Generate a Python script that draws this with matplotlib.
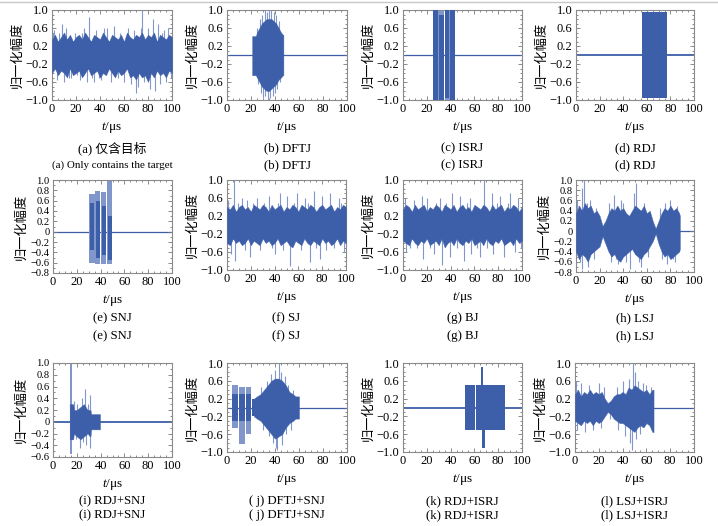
import numpy as np
import matplotlib
matplotlib.use('Agg')
import matplotlib.pyplot as plt
from matplotlib.ticker import MultipleLocator
from matplotlib.lines import Line2D

plt.rcParams['font.family'] = ['Liberation Serif', 'Noto Sans CJK SC']
plt.rcParams['mathtext.fontset'] = 'custom'
plt.rcParams['mathtext.rm'] = 'Liberation Serif'
plt.rcParams['mathtext.it'] = 'Liberation Serif:italic'

DARK = '#3d5fa9'
LIGHT = '#8197cc'

# ---------------- data ----------------
x_ticks = [0, 20, 40, 60, 80, 100]
y_ticks_std = [-1.0, -0.6, -0.2, 0.2, 0.6, 1.0]
y_ticks_08 = [-0.8, -0.6, -0.4, -0.2, 0.0, 0.2, 0.4, 0.6, 0.8, 1.0]
y_ticks_06 = [-0.6, -0.4, -0.2, 0.0, 0.2, 0.4, 0.6, 0.8, 1.0]

captions_cn = ['(a) 仅含目标', '(b) DFTJ', '(c) ISRJ', '(d) RDJ',
               '(e) SNJ', '(f) SJ', '(g) BJ', '(h) LSJ',
               '(i) RDJ+SNJ', '( j) DFTJ+SNJ', '(k) RDJ+ISRJ', '(l) LSJ+ISRJ']
captions_en = ['(a) Only contains the target', '(b) DFTJ', '(c) ISRJ', '(d) RDJ',
               '(e) SNJ', '(f) SJ', '(g) BJ', '(h) LSJ',
               '(i) RDJ+SNJ', '( j) DFTJ+SNJ', '(k) RDJ+ISRJ', '(l) LSJ+ISRJ']

# sampling instants of the envelope read-outs (us)
t_grid = [0, 2.5, 5, 7.5, 10, 12.5, 15, 17.5, 20, 22.5, 25, 27.5, 30, 32.5, 35, 37.5, 40,
          42.5, 45, 47.5, 50, 52.5, 55, 57.5, 60, 62.5, 65, 67.5, 70, 72.5, 75, 77.5, 80,
          82.5, 85, 87.5, 90, 92.5, 95, 97.5, 100]

# (a) target only
a_env_hi = [0.35, 0.45, 0.3, 0.4, 0.5, 0.35, 0.45, 0.3, 0.4, 0.45, 0.35, 0.5, 0.4, 0.3, 0.45,
            0.4, 0.35, 0.5, 0.4, 0.3, 0.45, 0.4, 0.35, 0.45, 0.3, 0.5, 0.4, 0.35, 0.45, 0.4,
            0.5, 0.35, 0.45, 0.4, 0.5, 0.3, 0.45, 0.4, 0.35, 0.45, 0.4]
a_env_lo = [-0.4, -0.3, -0.45, -0.35, -0.4, -0.5, -0.3, -0.45, -0.4, -0.35, -0.5, -0.4, -0.3,
            -0.45, -0.4, -0.35, -0.5, -0.4, -0.45, -0.3, -0.4, -0.5, -0.35, -0.45, -0.4, -0.3,
            -0.5, -0.45, -0.55, -0.4, -0.5, -0.45, -0.6, -0.4, -0.5, -0.35, -0.45, -0.4, -0.5,
            -0.35, -0.4]
a_spk_t = [1, 2, 4, 6, 8, 10, 12, 14, 16, 19, 21, 23, 25, 27, 29, 31, 33, 35, 37, 39, 41, 43, 46, 49, 52, 55, 57, 60, 63, 66, 68, 70, 72, 74, 75, 77, 80, 82, 84, 86, 88, 90, 92, 93, 95, 97, 99]
a_spk_v = [0.5, 0.55, -0.55, 0.5, 0.7, -0.6, 0.6, -0.5, -0.5, 0.5, -0.45, -0.55, 0.5, 0.6, -0.6, 0.85, -0.5, -0.6, 0.55, -0.5, -0.55, 0.6, 0.6, -0.6, 0.65, -0.5, 0.5, -0.6, 0.6, -0.65, 0.55, -0.85, -0.7, 0.6, 1.0, -0.6, 0.6, -0.75, 0.8, -0.8, 0.7, -0.65, 0.5, 0.55, -0.6, 0.6, -0.5]

# (b) DFTJ
b_env_t = [21, 21.5, 24, 25, 27, 29, 31, 33, 35, 37, 39, 41, 43, 45, 46.5, 47]
b_env_hi = [0.42, 0.42, 0.42, 0.5, 0.6, 0.7, 0.75, 0.8, 0.8, 0.8, 0.75, 0.7, 0.6, 0.5, 0.45, 0.45]
b_env_lo = [-0.45, -0.45, -0.45, -0.5, -0.6, -0.7, -0.75, -0.8, -0.8, -0.75, -0.7, -0.65, -0.55, -0.5, -0.45, -0.45]
b_spk_t = [25, 26, 27.5, 28, 29.5, 30, 31.5, 32, 33, 34, 35, 36, 37, 38, 39, 40, 41, 42, 43, 44]
b_spk_v = [0.6, -0.65, 0.8, -0.85, 0.9, -0.95, 1.0, -0.9, 0.95, -1.0, 1.0, -0.95, 1.0, -0.9, 0.95, -0.85, 0.9, -0.75, 0.75, -0.6]

# (c) ISRJ
c_lt_t0 = [25, 35.5]
c_lt_t1 = [34.5, 44]
c_lt_hi = [1.0, 1.0]
c_lt_lo = [-1.0, -1.0]
c_blk_t0 = [25, 30, 35.5, 39.5]
c_blk_t1 = [29.2, 34.5, 38.8, 44]
c_blk_hi = [1.0, 0.9, 1.0, 1.0]
c_blk_lo = [-1.0, -1.0, -0.95, -1.0]

# (d) RDJ
d_blk_t0 = [56]
d_blk_t1 = [77]
d_blk_hi = [0.95]
d_blk_lo = [-0.95]

# (e) SNJ
e_lt_t0 = [30.3, 35.6, 40.6, 45.4]
e_lt_t1 = [35.0, 39.8, 44.8, 49.9]
e_lt_hi = [0.72, 0.78, 0.76, 1.0]
e_lt_lo = [-0.6, -0.62, -0.62, -0.62]
e_blk_t0 = [30.8, 36.0, 41.0, 46.0]
e_blk_t1 = [34.5, 39.4, 44.4, 49.4]
e_blk_hi = [0.55, 0.6, 0.5, 0.3]
e_blk_lo = [-0.35, -0.5, -0.45, -0.55]

# (f) SJ
f_env_hi = [0.4, 0.35, 0.45, 0.3, 0.4, 0.45, 0.35, 0.4, 0.3, 0.45, 0.4, 0.35, 0.45, 0.4, 0.3,
            0.45, 0.35, 0.4, 0.45, 0.3, 0.4, 0.35, 0.45, 0.4, 0.3, 0.45, 0.4, 0.35, 0.45, 0.4,
            0.3, 0.4, 0.45, 0.35, 0.4, 0.45, 0.3, 0.4, 0.35, 0.45, 0.4]
f_env_lo = [-0.4, -0.45, -0.3, -0.4, -0.35, -0.45, -0.4, -0.3, -0.45, -0.35, -0.4, -0.45, -0.3,
            -0.4, -0.35, -0.45, -0.4, -0.3, -0.45, -0.4, -0.35, -0.45, -0.5, -0.35, -0.4, -0.45,
            -0.3, -0.4, -0.45, -0.35, -0.4, -0.45, -0.3, -0.4, -0.35, -0.45, -0.4, -0.3, -0.45,
            -0.35, -0.4]
f_spk_t = [1, 3, 5.6, 7, 9, 12.6, 15, 16.8, 19.6, 22, 25, 28, 31, 35, 38, 40.6, 43, 44.8, 47, 50, 53.2, 56, 58.8, 62, 65.8, 68, 70, 72.8, 75, 78.4, 79.8, 83, 86.8, 90, 93.8, 96, 98]
f_spk_v = [0.55, -0.65, 1.0, -0.8, 0.5, 0.6, -0.55, 0.55, -0.7, 0.5, 0.6, -0.55, 0.5, 0.65, -0.5, -0.65, 0.5, 0.7, -0.55, 0.65, -0.92, 0.5, 0.7, -0.55, 0.6, 0.5, -0.82, 0.75, -0.5, -0.75, 0.65, -0.55, 0.7, -0.5, 0.6, 0.5, -0.6]

# (g) BJ
g_env_hi = [0.35, 0.45, 0.4, 0.3, 0.45, 0.35, 0.4, 0.45, 0.3, 0.4, 0.35, 0.45, 0.4, 0.3, 0.45,
            0.4, 0.35, 0.45, 0.3, 0.4, 0.45, 0.35, 0.4, 0.3, 0.45, 0.4, 0.35, 0.45, 0.4, 0.3,
            0.45, 0.35, 0.4, 0.45, 0.3, 0.4, 0.35, 0.45, 0.4, 0.3, 0.4]
g_env_lo = [-0.35, -0.4, -0.45, -0.3, -0.4, -0.45, -0.35, -0.4, -0.3, -0.45, -0.4, -0.35, -0.45,
            -0.3, -0.5, -0.4, -0.35, -0.45, -0.3, -0.4, -0.45, -0.35, -0.4, -0.3, -0.45, -0.4,
            -0.35, -0.45, -0.3, -0.4, -0.45, -0.35, -0.4, -0.3, -0.45, -0.4, -0.35, -0.45, -0.3,
            -0.4, -0.35]
g_spk_t = [2, 2.5, 6, 9, 12, 16, 16.5, 20, 23, 25.8, 28, 31, 32.8, 36, 39.8, 41, 45, 48, 51, 54, 56.6, 57, 62, 65, 67.8, 71, 74.8, 76, 79, 81.8, 84.6, 88, 90.2, 94.4, 97, 99]
g_spk_v = [0.6, -0.6, -0.5, 0.55, -0.5, 0.65, -0.75, 0.6, -0.5, -0.65, 0.5, 0.6, -0.88, 0.5, -0.7, 0.7, -0.5, 0.65, -0.8, 0.5, 0.6, -0.65, -0.5, -0.7, 1.0, -0.5, 0.7, -0.65, 0.5, 0.65, -0.7, 0.5, 0.7, -0.6, 0.6, -0.5]

# (h) LSJ
h_env_t = [0, 2.5, 5, 7.5, 10, 12.5, 15, 17.5, 20, 22.5, 25, 27.5, 30, 32.5, 35, 37.5, 40,
           42.5, 45, 47.5, 50, 52.5, 55, 57.5, 60, 62.5, 65, 67.5, 70, 72.5, 75, 77.5, 80,
           82.5, 85, 87.5, 88]
h_env_hi = [0.35, 0.5, 0.4, 0.55, 0.45, 0.5, 0.35, 0.4, 0.3, 0.1, 0.2, 0.35, 0.45, 0.4, 0.5,
            0.4, 0.45, 0.35, 0.3, 0.4, 0.5, 0.45, 0.4, 0.5, 0.35, 0.4, 0.2, 0.05, 0.2, 0.35,
            0.45, 0.4, 0.5, 0.4, 0.45, 0.35, 0.3]
h_env_lo = [-0.4, -0.55, -0.45, -0.5, -0.6, -0.45, -0.4, -0.35, -0.3, -0.1, -0.25, -0.4, -0.5,
            -0.45, -0.55, -0.6, -0.5, -0.45, -0.4, -0.35, -0.45, -0.5, -0.55, -0.45, -0.4, -0.3,
            -0.2, -0.05, -0.25, -0.4, -0.5, -0.45, -0.55, -0.5, -0.45, -0.4, -0.35]
h_spk_t = [1, 3, 5, 5.5, 7, 9, 10, 12, 15, 17, 28, 30, 32, 34, 36, 38, 40, 42, 46, 49, 51, 53, 55, 58, 61, 71, 73, 75, 77, 80, 82, 84, 86]
h_spk_v = [0.6, -0.6, 0.85, -0.75, 1.0, 0.55, -0.7, 0.6, -0.55, 0.45, 0.55, -0.6, 0.7, -0.55, -0.65, 0.6, 0.55, -0.6, -0.75, 0.75, 0.95, -0.6, -0.7, 0.55, -0.5, 0.45, -0.55, 0.55, -0.65, 0.6, -0.55, -0.6, 0.5]

# (i) RDJ+SNJ
i_lt_t0 = [14.0]
i_lt_t1 = [16.3]
i_lt_hi = [1.0]
i_lt_lo = [-0.55]
i_env_t = [14, 17, 17.5, 20, 23, 26, 29, 31.5, 32, 39.5]
i_env_hi = [0.3, 0.3, 0.2, 0.2, 0.25, 0.3, 0.2, 0.2, 0.13, 0.13]
i_env_lo = [-0.3, -0.3, -0.2, -0.25, -0.3, -0.25, -0.2, -0.25, -0.13, -0.13]
i_spk_t = [18, 19, 20, 21, 23, 24, 25, 27, 28, 29, 30, 31, 31.5]
i_spk_v = [0.35, -0.3, 0.3, -0.25, -0.45, 0.4, -0.35, 0.55, -0.4, 0.3, -0.25, 0.45, -0.45]

# (j) DFTJ+SNJ
j_lt_t0 = [4, 10, 16]
j_lt_t1 = [9, 15, 20]
j_lt_hi = [0.5, 0.45, 0.45]
j_lt_lo = [-0.45, -0.82, -0.6]
j_blk_t0 = [4, 10, 16, 21]
j_blk_t1 = [9, 15, 20, 23]
j_blk_hi = [0.3, 0.3, 0.3, 0.2]
j_blk_lo = [-0.3, -0.3, -0.3, -0.2]
j_env_t = [22.5, 25, 28, 31, 34, 37, 40, 43, 46, 49, 52, 55, 57, 58, 60]
j_env_hi = [0.2, 0.25, 0.3, 0.4, 0.5, 0.6, 0.65, 0.65, 0.6, 0.5, 0.35, 0.3, 0.25, 0.25, 0.25]
j_env_lo = [-0.2, -0.25, -0.3, -0.4, -0.5, -0.6, -0.7, -0.65, -0.6, -0.45, -0.35, -0.3, -0.25, -0.25, -0.25]
j_spk_t = [28, 30, 33, 35, 37, 38, 40, 41, 42, 43, 45, 46, 48, 49, 51, 53, 55]
j_spk_v = [0.45, -0.5, 0.6, -0.65, 0.75, -0.8, 0.85, -0.9, -0.95, 1.0, 0.8, -0.85, 0.7, -0.6, 0.5, -0.5, 0.4]

# (k) RDJ+ISRJ
k_blk_t0 = [52.0, 61.6, 65.5, 66.8]
k_blk_t1 = [60.2, 85.6, 67.5, 68.8]
k_blk_hi = [0.5, 0.5, 0.92, 0.0]
k_blk_lo = [-0.5, -0.5, 0.0, -0.92]

# (l) LSJ+ISRJ
l_env_t = [0, 2.5, 5, 7.5, 10, 12.5, 15, 17.5, 20, 22.5, 25, 27.5, 30, 32.5, 35, 37.5, 40,
           42.5, 45, 47.5, 50, 52.5, 55, 57.5, 60, 62.5, 65, 66]
l_env_hi = [0.3, 0.4, 0.25, 0.35, 0.3, 0.4, 0.3, 0.35, 0.3, 0.35, 0.2, 0.1, 0.15, 0.25, 0.3,
            0.3, 0.35, 0.3, 0.45, 0.4, 0.5, 0.45, 0.4, 0.35, 0.4, 0.3, 0.4, 0.4]
l_env_lo = [-0.3, -0.35, -0.4, -0.3, -0.35, -0.3, -0.4, -0.3, -0.35, -0.3, -0.2, -0.1, -0.15,
            -0.25, -0.3, -0.35, -0.35, -0.4, -0.45, -0.5, -0.55, -0.45, -0.4, -0.45, -0.35, -0.4,
            -0.55, -0.55]
l_spk_t = [1, 2, 5, 8, 12, 15, 20, 22, 24, 29, 35, 36, 40, 42, 45, 46, 48, 48.5, 50, 51, 53, 55, 57, 60, 64]
l_spk_v = [0.6, -0.5, 0.55, -0.55, 0.5, -0.5, 0.55, -0.45, 0.45, -0.25, 0.45, -0.5, 0.6, -0.65, 0.65, -0.8, -0.95, 1.0, 0.8, -0.7, 0.6, -0.6, 0.55, 0.5, 0.45]

# ---------------- assembly ----------------
def P(**kw):
    return kw

panels = [
    P(env=(t_grid, a_env_hi, a_env_lo), spk=(a_spk_t, a_spk_v), yt=y_ticks_std),
    P(env=(b_env_t, b_env_hi, b_env_lo), spk=(b_spk_t, b_spk_v), yt=y_ticks_std),
    P(lt=(c_lt_t0, c_lt_t1, c_lt_hi, c_lt_lo), blk=(c_blk_t0, c_blk_t1, c_blk_hi, c_blk_lo), yt=y_ticks_std),
    P(blk=(d_blk_t0, d_blk_t1, d_blk_hi, d_blk_lo), yt=y_ticks_std, noisy_base=True),
    P(lt=(e_lt_t0, e_lt_t1, e_lt_hi, e_lt_lo), blk=(e_blk_t0, e_blk_t1, e_blk_hi, e_blk_lo), yt=y_ticks_08),
    P(env=(t_grid, f_env_hi, f_env_lo), spk=(f_spk_t, f_spk_v), yt=y_ticks_std),
    P(env=(t_grid, g_env_hi, g_env_lo), spk=(g_spk_t, g_spk_v), yt=y_ticks_std),
    P(env=(h_env_t, h_env_hi, h_env_lo), spk=(h_spk_t, h_spk_v), yt=y_ticks_08),
    P(lt=(i_lt_t0, i_lt_t1, i_lt_hi, i_lt_lo), env=(i_env_t, i_env_hi, i_env_lo), spk=(i_spk_t, i_spk_v), yt=y_ticks_06, noisy_base=True),
    P(lt=(j_lt_t0, j_lt_t1, j_lt_hi, j_lt_lo), blk=(j_blk_t0, j_blk_t1, j_blk_hi, j_blk_lo), env=(j_env_t, j_env_hi, j_env_lo), spk=(j_spk_t, j_spk_v), yt=y_ticks_std),
    P(blk=(k_blk_t0, k_blk_t1, k_blk_hi, k_blk_lo), yt=y_ticks_std, noisy_base=True),
    P(env=(l_env_t, l_env_hi, l_env_lo), spk=(l_spk_t, l_spk_v), yt=y_ticks_std),
]

# axes boxes in pixels: left, top, right, bottom
boxes = [
    (52, 10, 172, 100), (227, 10, 347, 100), (403, 10, 522, 100), (576, 10, 694, 100),
    (53, 180, 172, 273), (227, 180, 346, 270), (403, 180, 522, 270), (576, 180, 694, 272),
    (53, 363, 172, 457), (227, 363, 347, 452), (403, 363, 522, 452), (575, 363, 694, 452),
]
cap_y = [(148, 165), (318, 336), (501, 515)]

W, H = 718, 526
fig = plt.figure(figsize=(W / 100, H / 100), dpi=100)
fig.add_artist(Line2D([0, 1], [1 - 1.5 / H, 1 - 1.5 / H], color='#c8c8c8', lw=1.0))


def fmt(v):
    if abs(v) < 1e-9:
        return '0'
    return ('%.1f' % v).replace('-', '\u2212')


for idx, (p, (l, t, r, b)) in enumerate(zip(panels, boxes)):
    ax = fig.add_axes([l / W, 1 - b / H, (r - l) / W, (b - t) / H])
    ymin = p['yt'][0]
    dense = len(p['yt']) > 6
    ax.plot([0, 100], [0, 0], color=DARK, lw=1.3 if p.get('noisy_base') else 0.9, zorder=1)
    if 'lt' in p:
        for t0, t1, hi, lo in zip(*p['lt']):
            ax.fill_between([t0, t1], [lo, lo], [hi, hi], color=LIGHT, lw=0, zorder=2)
    if 'spk' in p:
        st, sv = p['spk']
        ax.vlines(st, 0, sv, color=LIGHT, lw=0.8, zorder=3)
    if 'env' in p:
        et, eh, el = p['env']
        ax.fill_between(et, el, eh, color=DARK, lw=0.3, edgecolor=DARK, zorder=4)
    if 'blk' in p:
        for t0, t1, hi, lo in zip(*p['blk']):
            ax.fill_between([t0, t1], [lo, lo], [hi, hi], color=DARK, lw=0, zorder=4)

    ax.set_xlim(0, 100)
    ax.set_ylim(ymin, 1.0)
    ax.set_xticks(x_ticks)
    ax.set_xticklabels([str(v) for v in x_ticks])
    ax.set_yticks(p['yt'])
    ax.set_yticklabels([fmt(v) for v in p['yt']])
    ax.xaxis.set_minor_locator(MultipleLocator(5))
    ax.yaxis.set_minor_locator(MultipleLocator(0.1))
    ax.tick_params(which='both', direction='in', top=True, right=True,
                   color='#777777', width=0.6, pad=2.5)
    ax.tick_params(axis='x', labelsize=9)
    ax.tick_params(axis='y', labelsize=7.6 if dense else 9)
    ax.tick_params(which='major', length=3)
    ax.tick_params(which='minor', length=1.5)
    for s in ax.spines.values():
        s.set_color('#8a8a8a')
        s.set_linewidth(0.8)
    ax.set_xlabel(r'$t$/μs', fontsize=9.5, labelpad=3)
    ax.set_ylabel('归一化幅度', fontsize=9.5, labelpad=2)

    cx = (l + r) / 2 / W
    row = idx // 4
    fig.text(cx, 1 - cap_y[row][0] / H, captions_cn[idx], ha='center', va='center', fontsize=9.2)
    fig.text(cx, 1 - cap_y[row][1] / H, captions_en[idx], ha='center', va='center',
             fontsize=7.9 if idx == 0 else 9.2)

fig.savefig('out.png', dpi=100)
